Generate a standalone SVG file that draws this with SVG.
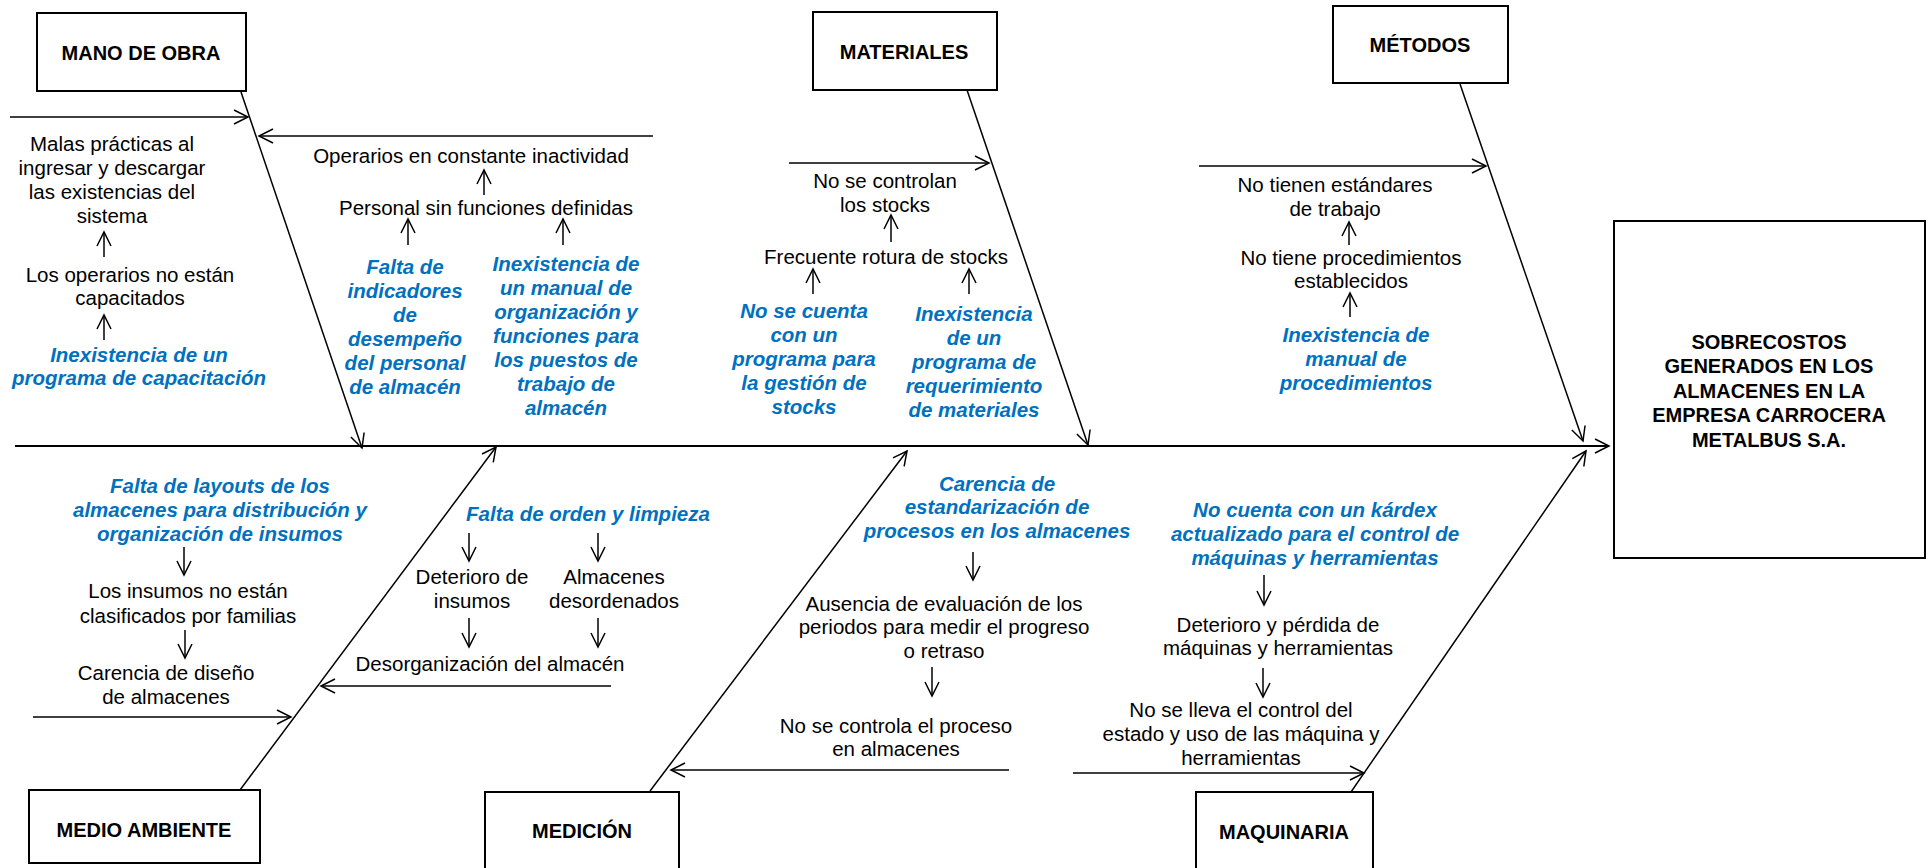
<svg xmlns="http://www.w3.org/2000/svg" width="1931" height="868" viewBox="0 0 1931 868" xml:space="preserve">
<style>
text{font-family:"Liberation Sans",Arial,sans-serif;text-anchor:middle;fill:#000}
.t{font-size:20.5px}
.b{font-size:20px;font-weight:bold}
.c{font-size:20.5px;font-weight:bold;font-style:italic;fill:#0070C0}
.box{fill:#fff;stroke:#000;stroke-width:2}
.ln{stroke:#000;stroke-width:1.5;fill:none}
.sp{stroke:#000;stroke-width:2.2;fill:none}
</style>
<defs>
<marker id="ah" markerUnits="userSpaceOnUse" viewBox="-16 -9 18 18" markerWidth="18" markerHeight="18" refX="0" refY="0" orient="auto">
<path d="M-14,-7 L0,0 L-14,7" fill="none" stroke="#000" stroke-width="1.5"/>
</marker>
</defs>
<rect width="1931" height="868" fill="#fff"/>

<g id="connectors">
<line class="sp" x1="15" y1="446" x2="1609" y2="446" marker-end="url(#ah)"/>
<line class="ln" x1="241" y1="92" x2="362" y2="448" marker-end="url(#ah)"/>
<line class="ln" x1="967" y1="90" x2="1088" y2="445" marker-end="url(#ah)"/>
<line class="ln" x1="1460" y1="84" x2="1583" y2="441" marker-end="url(#ah)"/>
<line class="ln" x1="240" y1="790" x2="496" y2="447" marker-end="url(#ah)"/>
<line class="ln" x1="650" y1="791" x2="907" y2="451" marker-end="url(#ah)"/>
<line class="ln" x1="1351" y1="792" x2="1586" y2="451" marker-end="url(#ah)"/>
<line class="ln" x1="10" y1="117" x2="248" y2="117" marker-end="url(#ah)"/>
<line class="ln" x1="653" y1="136" x2="259" y2="136" marker-end="url(#ah)"/>
<line class="ln" x1="789" y1="163" x2="989" y2="163" marker-end="url(#ah)"/>
<line class="ln" x1="1199" y1="166" x2="1486" y2="166" marker-end="url(#ah)"/>
<line class="ln" x1="33" y1="717" x2="291" y2="717" marker-end="url(#ah)"/>
<line class="ln" x1="611" y1="686" x2="321" y2="686" marker-end="url(#ah)"/>
<line class="ln" x1="1009" y1="770" x2="671" y2="770" marker-end="url(#ah)"/>
<line class="ln" x1="1073" y1="773" x2="1364" y2="773" marker-end="url(#ah)"/>
<line class="ln" x1="104" y1="257" x2="104" y2="232" marker-end="url(#ah)"/>
<line class="ln" x1="104" y1="340" x2="104" y2="315" marker-end="url(#ah)"/>
<line class="ln" x1="484" y1="195" x2="484" y2="170" marker-end="url(#ah)"/>
<line class="ln" x1="408" y1="245" x2="408" y2="219" marker-end="url(#ah)"/>
<line class="ln" x1="563" y1="245" x2="563" y2="219" marker-end="url(#ah)"/>
<line class="ln" x1="891" y1="242" x2="891" y2="215" marker-end="url(#ah)"/>
<line class="ln" x1="813" y1="294" x2="813" y2="269" marker-end="url(#ah)"/>
<line class="ln" x1="969" y1="294" x2="969" y2="269" marker-end="url(#ah)"/>
<line class="ln" x1="1349" y1="245" x2="1349" y2="222" marker-end="url(#ah)"/>
<line class="ln" x1="1350" y1="317" x2="1350" y2="293" marker-end="url(#ah)"/>
<line class="ln" x1="184" y1="547" x2="184" y2="575" marker-end="url(#ah)"/>
<line class="ln" x1="185" y1="630" x2="185" y2="658" marker-end="url(#ah)"/>
<line class="ln" x1="469" y1="533" x2="469" y2="561" marker-end="url(#ah)"/>
<line class="ln" x1="598" y1="533" x2="598" y2="561" marker-end="url(#ah)"/>
<line class="ln" x1="469" y1="618" x2="469" y2="647" marker-end="url(#ah)"/>
<line class="ln" x1="598" y1="618" x2="598" y2="647" marker-end="url(#ah)"/>
<line class="ln" x1="973" y1="552" x2="973" y2="580" marker-end="url(#ah)"/>
<line class="ln" x1="932" y1="667" x2="932" y2="696" marker-end="url(#ah)"/>
<line class="ln" x1="1264" y1="575" x2="1264" y2="605" marker-end="url(#ah)"/>
<line class="ln" x1="1263" y1="668" x2="1263" y2="697" marker-end="url(#ah)"/>
</g>

<g id="effect">
<rect class="box" x="1614" y="221" width="311" height="337"/>
<text class="b" x="1769" y="349">SOBRECOSTOS</text>
<text class="b" x="1769" y="373">GENERADOS  EN LOS</text>
<text class="b" x="1769" y="398">ALMACENES  EN LA</text>
<text class="b" x="1769" y="422">EMPRESA  CARROCERA</text>
<text class="b" x="1769" y="447">METALBUS  S.A.</text>
</g>

<g id="mano-de-obra">
<rect class="box" x="37" y="13" width="209" height="78"/>
<text class="b" x="141" y="60">MANO DE OBRA</text>
<text class="t" x="112" y="151">Malas prácticas al</text>
<text class="t" x="112" y="175">ingresar  y descargar</text>
<text class="t" x="112" y="199">las existencias del</text>
<text class="t" x="112" y="223">sistema</text>
<text class="t" x="130" y="282">Los operarios  no están</text>
<text class="t" x="130" y="305">capacitados</text>
<text class="c" x="139" y="362">Inexistencia  de un</text>
<text class="c" x="139" y="385">programa  de capacitación</text>
<text class="t" x="471" y="163">Operarios  en constante inactividad</text>
<text class="t" x="486" y="215">Personal  sin funciones  definidas</text>
<text class="c" x="405" y="274">Falta de</text>
<text class="c" x="405" y="298">indicadores</text>
<text class="c" x="405" y="322">de</text>
<text class="c" x="405" y="346">desempeño</text>
<text class="c" x="405" y="370">del personal</text>
<text class="c" x="405" y="394">de almacén</text>
<text class="c" x="566" y="271">Inexistencia  de</text>
<text class="c" x="566" y="295">un manual de</text>
<text class="c" x="566" y="319">organización y</text>
<text class="c" x="566" y="343">funciones  para</text>
<text class="c" x="566" y="367">los puestos  de</text>
<text class="c" x="566" y="391">trabajo de</text>
<text class="c" x="566" y="415">almacén</text>
</g>

<g id="materiales">
<rect class="box" x="813" y="12" width="184" height="78"/>
<text class="b" x="904" y="59">MATERIALES</text>
<text class="t" x="885" y="188">No se controlan</text>
<text class="t" x="885" y="212">los stocks</text>
<text class="t" x="886" y="264">Frecuente  rotura de stocks</text>
<text class="c" x="804" y="318">No se  cuenta</text>
<text class="c" x="804" y="342">con un</text>
<text class="c" x="804" y="366">programa para</text>
<text class="c" x="804" y="390">la gestión  de</text>
<text class="c" x="804" y="414">stocks</text>
<text class="c" x="974" y="321">Inexistencia</text>
<text class="c" x="974" y="345">de un</text>
<text class="c" x="974" y="369">programa de</text>
<text class="c" x="974" y="393">requerimiento</text>
<text class="c" x="974" y="417">de materiales</text>
</g>

<g id="metodos">
<rect class="box" x="1333" y="6" width="175" height="77"/>
<text class="b" x="1420" y="52">MÉTODOS</text>
<text class="t" x="1335" y="192">No tienen estándares</text>
<text class="t" x="1335" y="216">de trabajo</text>
<text class="t" x="1351" y="265">No tiene procedimientos</text>
<text class="t" x="1351" y="288">establecidos</text>
<text class="c" x="1356" y="342">Inexistencia  de</text>
<text class="c" x="1356" y="366">manual de</text>
<text class="c" x="1356" y="390">procedimientos</text>
</g>

<g id="medio-ambiente">
<rect class="box" x="29" y="790" width="231" height="73"/>
<text class="b" x="144" y="837">MEDIO AMBIENTE</text>
<text class="c" x="220" y="493">Falta de layouts de los</text>
<text class="c" x="220" y="517">almacenes  para distribución  y</text>
<text class="c" x="220" y="541">organización  de insumos</text>
<text class="t" x="188" y="598">Los insumos no están</text>
<text class="t" x="188" y="623">clasificados  por familias</text>
<text class="t" x="166" y="680">Carencia  de diseño</text>
<text class="t" x="166" y="704">de almacenes</text>
<text class="c" x="588" y="521">Falta de orden y limpieza</text>
<text class="t" x="472" y="584">Deterioro  de</text>
<text class="t" x="472" y="608">insumos</text>
<text class="t" x="614" y="584">Almacenes</text>
<text class="t" x="614" y="608">desordenados</text>
<text class="t" x="490" y="671">Desorganización  del almacén</text>
</g>

<g id="medicion">
<rect class="box" x="485" y="792" width="194" height="80"/>
<text class="b" x="582" y="838">MEDICIÓN</text>
<text class="c" x="997" y="491">Carencia  de</text>
<text class="c" x="997" y="514">estandarización  de</text>
<text class="c" x="997" y="538">procesos  en los almacenes</text>
<text class="t" x="944" y="611">Ausencia de evaluación  de los</text>
<text class="t" x="944" y="634">periodos  para medir el progreso</text>
<text class="t" x="944" y="658">o retraso</text>
<text class="t" x="896" y="733">No se controla el proceso</text>
<text class="t" x="896" y="756">en almacenes</text>
</g>

<g id="maquinaria">
<rect class="box" x="1196" y="792" width="177" height="80"/>
<text class="b" x="1284" y="839">MAQUINARIA</text>
<text class="c" x="1315" y="517">No cuenta  con un kárdex</text>
<text class="c" x="1315" y="541">actualizado para el control de</text>
<text class="c" x="1315" y="565">máquinas  y herramientas</text>
<text class="t" x="1278" y="632">Deterioro  y pérdida  de</text>
<text class="t" x="1278" y="655">máquinas  y herramientas</text>
<text class="t" x="1241" y="717">No se lleva  el control del</text>
<text class="t" x="1241" y="741">estado y uso de las máquina y</text>
<text class="t" x="1241" y="765">herramientas</text>
</g>
</svg>
